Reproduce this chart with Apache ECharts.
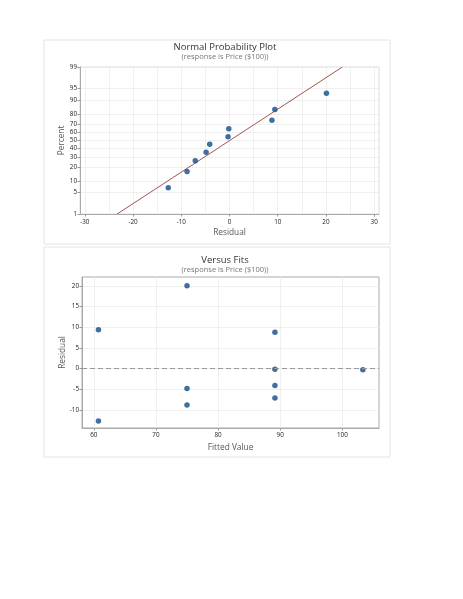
<!DOCTYPE html>
<html>
<head>
<meta charset="utf-8">
<script src="https://cdn.jsdelivr.net/npm/echarts@6/dist/echarts.min.js"></script>
<style>html,body{margin:0;padding:0;background:#fff}#c{width:463px;height:599px}</style>
</head>
<body>
<div id="c"></div>
<script>
// ---- Data ----
// Normal probability plot: ordered residuals and their plotting percents
var normResiduals = [-12.7, -8.8, -7.1, -4.85, -4.1, -0.3, -0.15, 8.8, 9.4, 20.1];
var normPercents  = [6.7, 16.3, 26.0, 35.6, 45.2, 54.8, 64.4, 74.0, 83.7, 93.3];
// fitted reference line endpoints
var fitLineResiduals = [-23.3, 23.4];
var fitLinePercents  = [1, 99];
// probability axis tick labels
var percentTicks = [1, 5, 10, 20, 30, 40, 50, 60, 70, 80, 90, 95, 99];
var residualTicksTop = [-30, -20, -10, 0, 10, 20, 30];
var residualGridTop = [-30, -25, -20, -15, -10, -5, 0, 5, 10, 15, 20, 25, 30];

// Versus fits plot
var fittedValues = [60.75, 60.75, 75.0, 75.0, 75.0, 89.15, 89.15, 89.15, 89.15, 103.3];
var fitResiduals = [9.4, -12.7, 20.1, -4.85, -8.8, 8.8, -0.15, -4.1, -7.1, -0.3];
var fittedTicks = [60, 70, 80, 90, 100];
var residualTicksBottom = [-10, -5, 0, 5, 10, 15, 20];

// ---- probability scale transform (inverse normal CDF) ----
function qnorm(p) {
  var a = [-3.969683028665376e+01, 2.209460984245205e+02, -2.759285104469687e+02, 1.383577518672690e+02, -3.066479806614716e+01, 2.506628277459239e+00];
  var b = [-5.447609879822406e+01, 1.615858368580409e+02, -1.556989798598866e+02, 6.680131188771972e+01, -1.328068155288572e+01];
  var c = [-7.784894002430293e-03, -3.223964580411365e-01, -2.400758277161838e+00, -2.549732539343734e+00, 4.374664141464968e+00, 2.938163982698783e+00];
  var d = [7.784695709041462e-03, 3.224671290700398e-01, 2.445134137142996e+00, 3.754408661907416e+00];
  var pl = 0.02425, q, r;
  if (p < pl) { q = Math.sqrt(-2 * Math.log(p)); return (((((c[0]*q+c[1])*q+c[2])*q+c[3])*q+c[4])*q+c[5]) / ((((d[0]*q+d[1])*q+d[2])*q+d[3])*q+1); }
  if (p > 1 - pl) { q = Math.sqrt(-2 * Math.log(1 - p)); return -(((((c[0]*q+c[1])*q+c[2])*q+c[3])*q+c[4])*q+c[5]) / ((((d[0]*q+d[1])*q+d[2])*q+d[3])*q+1); }
  q = p - 0.5; r = q * q;
  return (((((a[0]*r+a[1])*r+a[2])*r+a[3])*r+a[4])*r+a[5])*q / (((((b[0]*r+b[1])*r+b[2])*r+b[3])*r+b[4])*r+1);
}
function pz(pct) { return qnorm(pct / 100); }
var percentTickZ = percentTicks.map(pz);
function zLabel(v) {
  for (var i = 0; i < percentTickZ.length; i++) if (Math.abs(percentTickZ[i] - v) < 1e-6) return String(percentTicks[i]);
  return '';
}

var normData = normResiduals.map(function (r, i) { return [r, pz(normPercents[i])]; });
var fitLineData = fitLineResiduals.map(function (r, i) { return [r, pz(fitLinePercents[i])]; });
var fitsData = fittedValues.map(function (f, i) { return [f, fitResiduals[i]]; });

var FONT = '"Open Sans", "Noto Sans", sans-serif';
var ptColor = '#0f4c8a';
var labelStyle = { fontSize: 6.3, color: '#222', fontFamily: FONT };
var nameStyle = { fontSize: 8.3, color: '#555', fontFamily: FONT };
var gridLine = { show: true, lineStyle: { color: '#ececec', width: 0.8 } };
var axLine = { show: true, onZero: false, lineStyle: { color: '#aaaaaa' } };

var chart = echarts.init(document.getElementById('c'), null, { renderer: 'canvas' });
chart.setOption({
  backgroundColor: '#fff',
  animation: false,
  graphic: [
    { type: 'rect', shape: { x: 44, y: 40, width: 346, height: 204 }, style: { fill: 'none', stroke: '#e4e4e4', lineWidth: 1 }, silent: true, z: -10 },
    { type: 'rect', shape: { x: 44, y: 247, width: 346, height: 210 }, style: { fill: 'none', stroke: '#e4e4e4', lineWidth: 1 }, silent: true, z: -10 }
  ],
  title: [
    { text: 'Normal Probability Plot', subtext: '(response is Price ($100))', left: 220, top: 37, textAlign: 'center', itemGap: 1,
      textStyle: { fontSize: 9.5, fontWeight: 'normal', color: '#333', fontFamily: FONT },
      subtextStyle: { fontSize: 7.5, color: '#777', fontFamily: FONT } },
    { text: 'Versus Fits', subtext: '(response is Price ($100))', left: 220, top: 250, textAlign: 'center', itemGap: 1,
      textStyle: { fontSize: 9.5, fontWeight: 'normal', color: '#333', fontFamily: FONT },
      subtextStyle: { fontSize: 7.5, color: '#777', fontFamily: FONT } }
  ],
  grid: [
    { left: 80, top: 67, width: 299, height: 147, show: true, borderColor: '#dcdcdc', borderWidth: 1, backgroundColor: 'transparent' },
    { left: 82, top: 277, width: 297, height: 151, show: true, borderColor: '#aaaaaa', borderWidth: 1, backgroundColor: 'transparent' }
  ],
  xAxis: [
    { gridIndex: 0, type: 'value', min: -31, max: 31, name: 'Residual', nameLocation: 'middle', nameGap: 15, nameMoveOverlap: false, nameTextStyle: nameStyle,
      axisLine: axLine,
      axisTick: { show: false, customValues: residualGridTop },
      axisLabel: Object.assign({ margin: 5, customValues: residualTicksTop }, labelStyle),
      splitLine: gridLine },
    { gridIndex: 0, type: 'value', min: -31, max: 31, position: 'bottom',
      axisLine: { show: false, onZero: false },
      axisTick: { show: true, length: 2.5, lineStyle: { color: '#999' }, customValues: residualTicksTop },
      axisLabel: { show: false }, splitLine: { show: false } },
    { gridIndex: 1, type: 'value', min: 58.1, max: 105.9, name: 'Fitted Value', nameLocation: 'middle', nameGap: 15.5, nameMoveOverlap: false, nameTextStyle: nameStyle,
      axisLine: axLine,
      axisTick: { show: true, length: 2.5, lineStyle: { color: '#999' }, customValues: fittedTicks },
      axisLabel: Object.assign({ margin: 4, customValues: fittedTicks }, labelStyle),
      splitLine: gridLine }
  ],
  yAxis: [
    { gridIndex: 0, type: 'value', min: pz(1), max: pz(99), name: 'Percent', nameLocation: 'middle', nameGap: 14, nameMoveOverlap: false, nameTextStyle: nameStyle,
      axisLine: axLine,
      axisTick: { show: true, length: 2.5, lineStyle: { color: '#999' }, customValues: percentTickZ },
      axisLabel: Object.assign({ margin: 3, customValues: percentTickZ, formatter: zLabel }, labelStyle),
      splitLine: gridLine },
    { gridIndex: 1, type: 'value', min: -14.4, max: 22.2, name: 'Residual', nameLocation: 'middle', nameGap: 15, nameMoveOverlap: false, nameTextStyle: nameStyle,
      axisLine: axLine,
      axisTick: { show: true, length: 2.5, lineStyle: { color: '#999' }, customValues: residualTicksBottom },
      axisLabel: Object.assign({ margin: 3, customValues: residualTicksBottom }, labelStyle),
      splitLine: gridLine }
  ],
  series: [
    { type: 'line', xAxisIndex: 0, yAxisIndex: 0, data: fitLineData, showSymbol: false, symbol: 'none', silent: true,
      lineStyle: { color: '#a5524e', width: 1 }, z: 2 },
    { type: 'scatter', xAxisIndex: 0, yAxisIndex: 0, data: normData, symbol: 'circle', symbolSize: 5.5,
      itemStyle: { color: ptColor }, z: 3 },
    { type: 'scatter', xAxisIndex: 2, yAxisIndex: 1, data: fitsData, symbol: 'circle', symbolSize: 5.5,
      itemStyle: { color: ptColor }, z: 3,
      markLine: { silent: true, symbol: 'none', label: { show: false },
        lineStyle: { color: '#999', type: [5, 3], width: 1 },
        data: [{ yAxis: 0 }] } }
  ]
});
</script>
</body>
</html>
